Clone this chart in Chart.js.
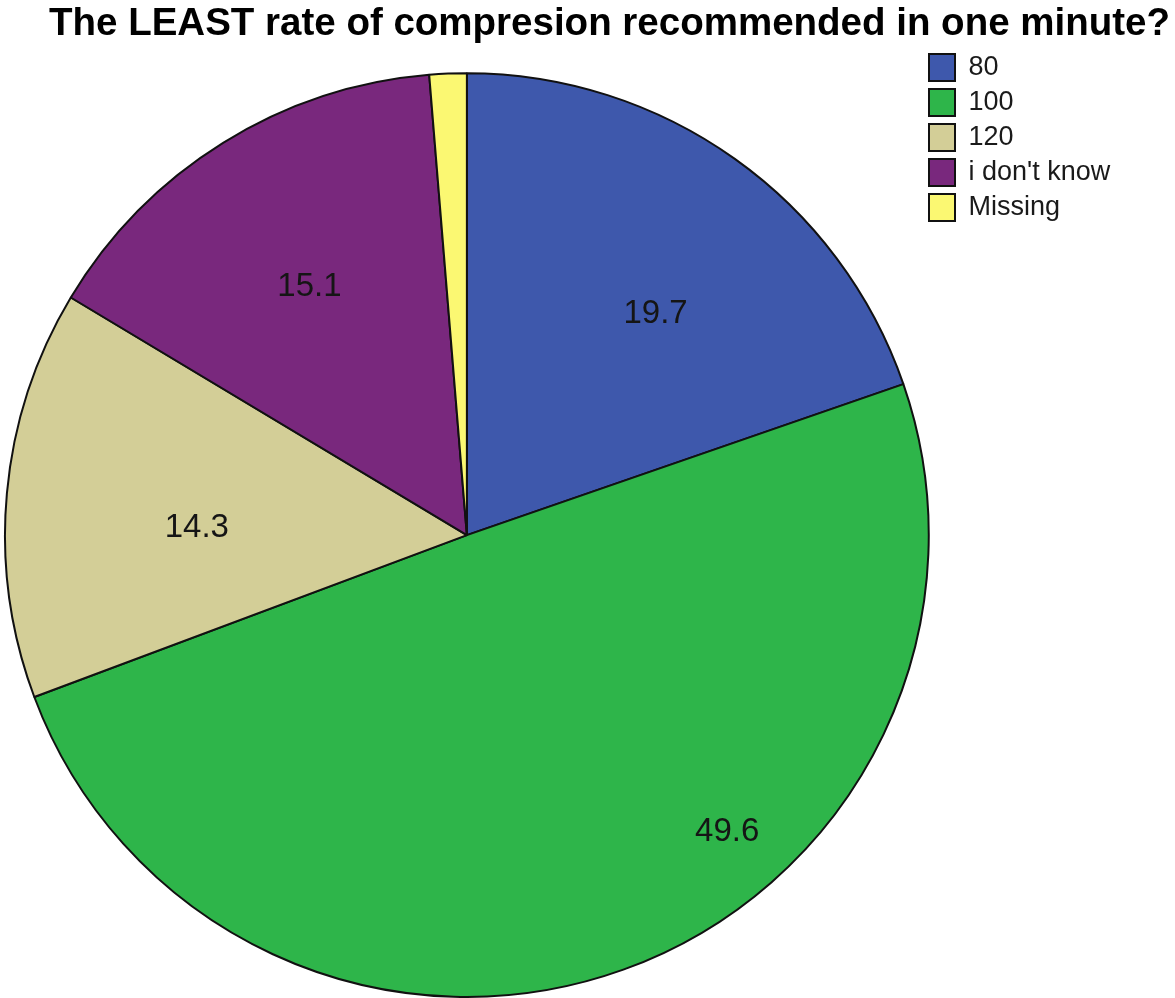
<!DOCTYPE html>
<html>
<head>
<meta charset="utf-8">
<script src="https://cdn.jsdelivr.net/npm/chart.js@4"></script>
<style>
  html, body { margin: 0; padding: 0; background: #fff; }
  #wrap { width: 1175px; height: 998px; }
</style>
</head>
<body>
<div id="wrap"><canvas id="pie"></canvas></div>
<script>
const categories = ['80', '100', '120', "i don't know", 'Missing'];
const percents = [19.7, 49.6, 14.3, 15.1, 1.3];
const sliceColors = ['#3e58ac', '#2eb54a', '#d3ce97', '#79287d', '#fbf872'];

// where each value label sits inside its slice: [fraction of the sweep, fraction of the radius]
const labelSpots = [[0.57, 0.63], [0.38, 0.855], [0.43, 0.585], [0.49, 0.636], null];

const FONT = "'Liberation Sans', Arial, sans-serif";

// value labels drawn from the arcs themselves
const sliceValues = {
  id: 'sliceValues',
  afterDatasetsDraw(chart) {
    const ctx = chart.ctx;
    const meta = chart.getDatasetMeta(0);
    ctx.save();
    ctx.font = '33px ' + FONT;
    ctx.fillStyle = '#151515';
    ctx.textAlign = 'center';
    ctx.textBaseline = 'middle';
    meta.data.forEach((arc, i) => {
      const spot = labelSpots[i];
      if (!spot) return;
      const { x, y, startAngle, endAngle, outerRadius } = arc.getProps(['x', 'y', 'startAngle', 'endAngle', 'outerRadius'], true);
      const a = startAngle + spot[0] * (endAngle - startAngle);
      const r = outerRadius * spot[1];
      ctx.fillText(percents[i].toFixed(1), x + Math.cos(a) * r, y + Math.sin(a) * r);
    });
    ctx.restore();
  }
};

// move the legend up beside the title and re-centre the title over the page
const placeBoxes = {
  id: 'placeBoxes',
  afterLayout(chart, args, opts) {
    const lg = chart.legend;
    lg.left = opts.legendX; lg.right = opts.legendX + lg.width;
    lg.top = opts.legendY; lg.bottom = opts.legendY + lg.height;
    const t = chart.titleBlock;
    t.left = opts.titleLeft; t.right = chart.width;
  }
};

new Chart(document.getElementById('pie'), {
  type: 'pie',
  data: {
    labels: categories,
    datasets: [{
      data: percents,
      backgroundColor: sliceColors,
      borderColor: '#111',
      borderWidth: 2,
      hoverOffset: 0
    }]
  },
  options: {
    responsive: true,
    maintainAspectRatio: false,
    animation: false,
    layout: { padding: { top: 1, left: 4, bottom: 0, right: 46 } },
    plugins: {
      title: {
        display: true,
        text: 'The LEAST rate of compresion recommended in one minute?',
        color: '#000',
        font: { family: FONT, size: 38.5, weight: 'bold' },
        padding: { top: 0, bottom: 25 }
      },
      legend: {
        position: 'right',
        align: 'start',
        labels: {
          color: '#1a1a1a',
          font: { family: FONT, size: 27 },
          boxWidth: 26,
          boxHeight: 27,
          padding: 8
        }
      },
      tooltip: { enabled: false },
      placeBoxes: { legendX: 921, legendY: 46, titleLeft: 44 }
    }
  },
  plugins: [sliceValues, placeBoxes]
});
</script>
</body>
</html>
